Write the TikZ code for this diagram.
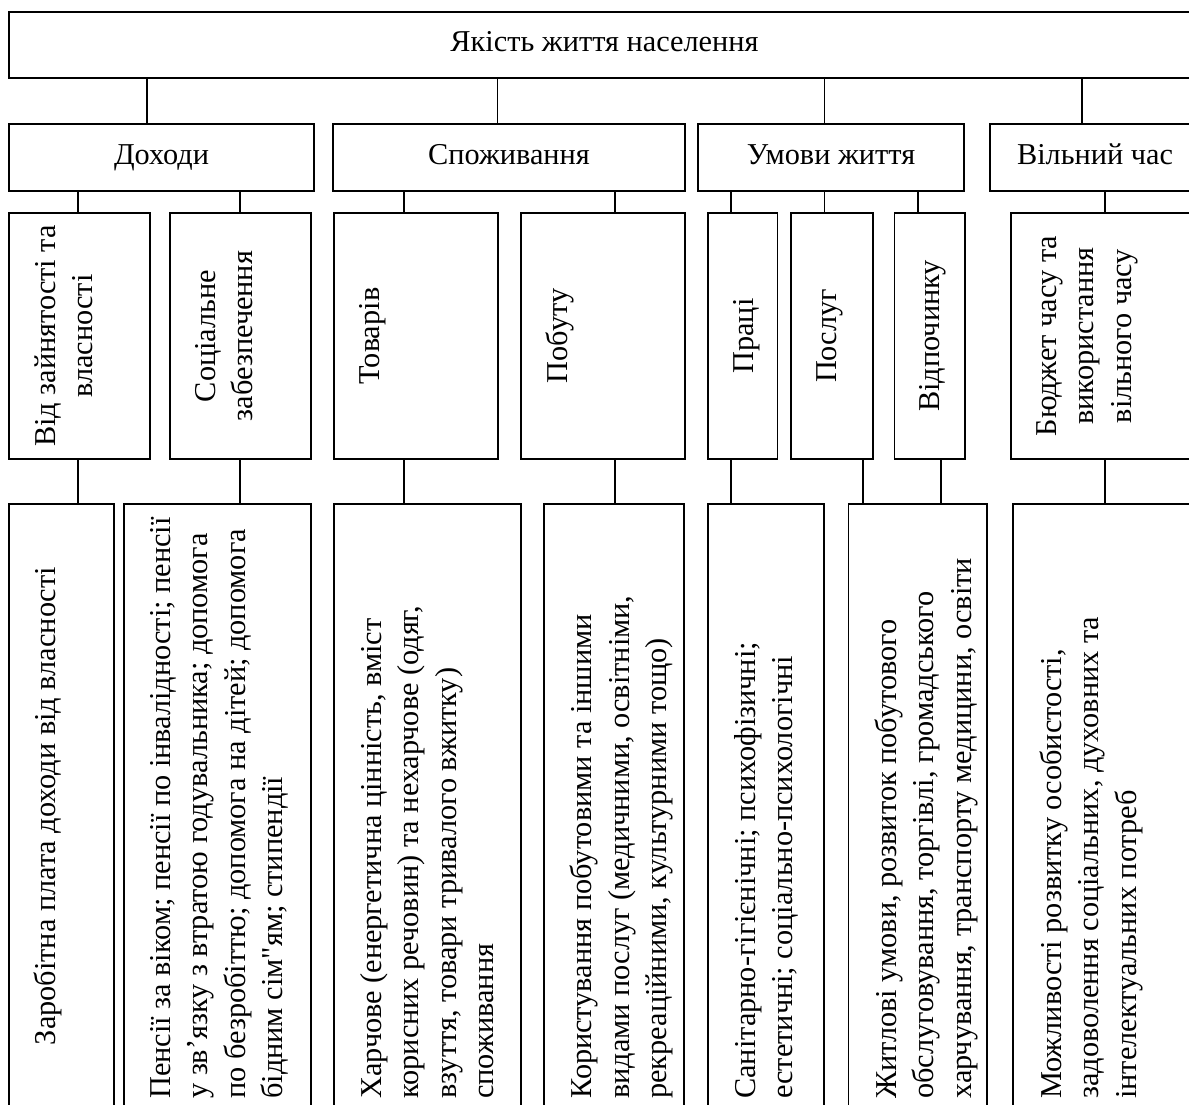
\documentclass[tikz,border=0pt]{standalone}
\usepackage{fontspec}
\setmainfont{Liberation Serif}[Ligatures=TeXOff]
\usetikzlibrary{calc}

\begin{document}
\begin{tikzpicture}[x=1pt, y=-1pt,
        font=\fontsize{30.3}{37.5}\selectfont,
        cell/.style={draw, line width=1.8pt, inner sep=0pt},
        head/.style={cell, text height=21pt, text depth=8pt},
        link/.style={line width=1.8pt},
        vlabel/.style={rotate=90, inner sep=0pt, align=center, anchor=north},
        llabel/.style={rotate=90, inner sep=0pt, align=left, anchor=north west}]

    \useasboundingbox (0, 0) rectangle (1189, 1104);
    \clip (0, 0) rectangle (1189, 1104);

    % level 1
    \node [head, minimum width=1191pt, minimum height=66pt] (top) at (604.5, 45) {Якість життя населення};

    % level 2
    \foreach \name/\xa/\xb/\txt in {dohody/9/314/Доходи, spozh/333/685/Споживання, umovy/698/964/Умови життя, vilnyi/990/1200/Вільний час} {%
            \node [head, minimum width={(\xb-\xa)*1pt}, minimum height=67pt] (\name) at ({(\xa+\xb)/2}, 157.5) {\txt};
        }

    % level 3
    \foreach \name/\xa/\xb in {vid/9/150, social/170/311, tovariv/334/498, pobutu/521/685, praci/708/777.5, poslug/791/873, vidpoch/894.5/965, budget/1011/1200} {%
            \node [cell, minimum width={(\xb-\xa)*1pt}, minimum height=246pt] (\name) at ({(\xa+\xb)/2}, 336) {};
        }
    \foreach \name/\txt in {vid/{Від зайнятості та\\власності}, social/{Соціальне\\забезпечення}, tovariv/Товарів, pobutu/Побуту, praci/Праці, poslug/Послуг, vidpoch/Відпочинку, budget/{Бюджет часу та\\використання\\вільного часу}} {%
            \node [vlabel] (\name-t) at ($(\name.west)+(26, 0)$) {\txt};
        }

    % level 4
    \foreach \name/\xa/\xb in {zarob/9/114, pensii/124/311, harch/334/521, koryst/544/684, sanit/708/824, zhytl/848.5/987, mozhl/1013/1200} {%
            \node [cell, minimum width={(\xb-\xa)*1pt}, minimum height=604pt] (\name) at ({(\xa+\xb)/2}, 806) {};
        }
    \node [vlabel] (zarob-t) at ($(zarob.west)+(26, 0)$) {Заробітна плата доходи від власності};
    \foreach \name/\txt in {%
            pensii/{Пенсії за віком; пенсії по інвалідності; пенсії\\у зв’язку з втратою годувальника; допомога\\по безробіттю; допомога на дітей; допомога\\бідним сім"ям; стипендії},
            harch/{Харчове (енергетична цінність, вміст\\корисних речовин) та нехарчове (одяг,\\взуття, товари тривалого вжитку)\\споживання},
            koryst/{Користування побутовими та іншими\\видами послуг (медичними, освітніми,\\рекреаційними, культурними тощо)},
            sanit/{Санітарно-гігієнічні; психофізичні;\\естетичні; соціально-психологічні},
            zhytl/{Житлові умови, розвиток побутового\\обслуговування, торгівлі, громадського\\харчування, транспорту медицини, освіти},
            mozhl/{Можливості розвитку особистості,\\задоволення соціальних, духовних та\\інтелектуальних потреб}} {%
            \node [llabel] (\name-t) at ($(\name.south west)+(27, -10)$) {\txt};
        }

    % connectors
    \foreach \down/\dx in {dohody/-14.5, spozh/-11.5, umovy/-6.5, vilnyi/-13} {%
            \draw [link] ([xshift=\dx pt]\down.north) -- ([xshift=\dx pt]\down.north |- top.south);
        }
    \foreach \up/\down/\dx in {dohody/vid/-1.5, dohody/social/-0.5, spozh/tovariv/-12, spozh/pobutu/12, umovy/praci/-11.75, umovy/poslug/-7.5, umovy/vidpoch/-11.75, vilnyi/budget/-0.5} {%
            \draw [link] ([xshift=\dx pt]\down.north) -- ([xshift=\dx pt]\down.north |- \up.south);
        }
    \foreach \up/\down/\dx in {vid/zarob/-1.5, social/pensii/-0.5, tovariv/harch/-12, pobutu/koryst/12, praci/sanit/-11.75, poslug/zhytl/31, vidpoch/zhytl/11.25, budget/mozhl/-0.5} {%
            \draw [link] ([xshift=\dx pt]\up.south) -- ([xshift=\dx pt]\up.south |- \down.north);
        }

\end{tikzpicture}
\end{document}
